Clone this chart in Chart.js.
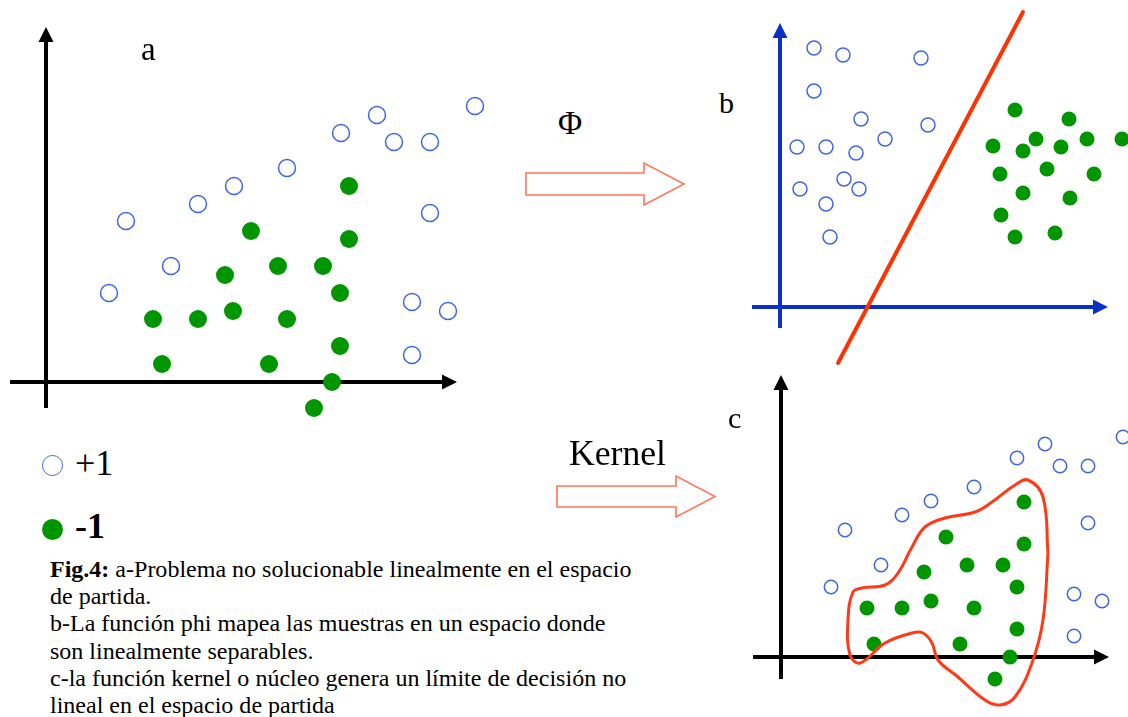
<!DOCTYPE html>
<html>
<head>
<meta charset="utf-8">
<script src="https://cdn.jsdelivr.net/npm/chart.js@4.4.1/dist/chart.umd.min.js"></script>
<style>
  html, body { margin: 0; padding: 0; background: #fff; }
  #stage { position: relative; width: 1128px; height: 717px; overflow: hidden;
           font-family: "Liberation Serif", "Times New Roman", serif; color: #000; }
  #stage canvas { position: absolute; }
  .t { position: absolute; white-space: nowrap; line-height: 1; }
  .mk { position: absolute; border-radius: 50%; box-sizing: border-box; }
  svg { position: absolute; left: 0; top: 0; }
</style>
</head>
<body>
<div id="stage">
  <svg width="1128" height="717" id="arrows"></svg>
  <canvas id="panelA" width="500" height="430" style="left:0;top:0"></canvas>
  <canvas id="panelB" width="388" height="370" style="left:740px;top:0"></canvas>
  <canvas id="panelC" width="388" height="347" style="left:740px;top:370px"></canvas>
</div>
<script>
// ---- a: original input space (x, y relative to the axes origin) ----
const plusA  = [[6.3,8.9],[8.0,16.1],[12.5,11.6],[15.2,17.8],[18.8,19.6],[24.1,21.4],[29.5,24.9],
                [33.1,26.7],[34.8,24.0],[38.4,24.0],[38.4,16.9],[42.9,27.6],[36.6,8.0],[40.2,7.1],[36.6,2.7]];
const minusA = [[30.3,19.6],[20.5,15.1],[30.3,14.3],[17.9,10.7],[23.2,11.6],[27.7,11.6],[29.4,8.9],
                [10.7,6.3],[15.2,6.3],[18.7,7.1],[24.1,6.3],[29.4,3.6],[11.6,1.8],[22.3,1.8],[28.6,0],[26.8,-2.6]];

// ---- b: feature space after phi ----
const plusB  = [[3.4,25.9],[6.3,25.2],[14.1,24.9],[3.4,21.6],[8.1,18.8],[14.8,18.2],[10.5,16.8],
                [1.7,16.0],[4.6,16.0],[7.6,15.4],[2.0,11.8],[6.4,12.8],[7.9,11.8],[4.6,10.3],[5.0,7.0]];
const minusB = [[23.5,19.7],[28.9,18.8],[25.6,16.8],[30.7,16.8],[34.2,16.8],[21.3,16.1],[24.3,15.6],
                [28.1,16.0],[26.7,13.8],[22.0,13.3],[31.4,13.3],[24.3,11.4],[29.0,10.9],[22.1,9.2],[23.5,7.0],[27.5,7.4]];
const separatorB = [[5.8,-5.6],[24.3,29.5]];

// ---- c: input space with kernel decision boundary ----
const plusC  = [[6.4,12.7],[5.0,7.0],[10.0,9.2],[12.1,14.2],[15.0,15.6],[19.3,17.0],[23.6,19.9],
                [26.4,21.3],[27.9,19.1],[30.7,19.1],[30.7,13.4],[29.3,6.3],[32.1,5.6],[29.3,2.1],[34.2,22.0]];
const minusC = [[24.3,15.5],[24.3,11.3],[16.5,12.0],[18.6,9.2],[22.2,9.2],[14.3,8.5],[23.6,7.0],
                [8.6,4.9],[12.1,4.9],[15.0,5.6],[19.3,4.9],[23.6,2.8],[9.3,1.3],[17.9,1.3],[22.9,0],[21.4,-2.2]];
const boundaryC = [[26.7,10.4],[26.2,3.7],[25.1,-0.6],[23.4,-4.0],[21.9,-4.8],[20.4,-4.3],[17.7,-2.0],
                   [15.7,-0.3],[15.1,1.4],[14.2,2.4],[13.1,2.4],[10.4,1.4],[7.9,-0.6],[6.9,0.2],[6.7,3.7],
                   [7.2,6.5],[8.1,6.9],[10.4,7.2],[11.7,8.4],[13.1,11.0],[14.4,13.0],[16.4,13.9],[19.4,14.5],
                   [21.1,15.5],[23.4,17.2],[24.7,17.7],[26.2,16.0],[26.7,10.4]];

// axis extents [from, to] for each panel
const axesA = { x: [-3.6, 41.1], y: [-2.6, 35.5] };
const axesB = { x: [-2.8, 32.8], y: [-2.1, 28.4] };
const axesC = { x: [-2.8, 32.8], y: [-2.2, 28.2] };

// legend and caption
const legendLabels = ['+1', '-1'];
const captionHead = 'Fig.4:';
const captionLines = [
  ' a-Problema no solucionable linealmente en el espacio',
  'de partida.',
  'b-La función phi mapea las muestras en un espacio donde',
  'son linealmente separables.',
  'c-la función kernel o núcleo genera un límite de decisión no',
  'lineal en el espacio de partida'
];

const BLUE_OPEN = '#3f66e0';
const GREEN = '#009600';
const toXY = arr => arr.map(([x, y]) => ({ x, y }));

// Draws both axes through the origin, each ending in a solid arrowhead.
const axisArrows = {
  id: 'axisArrows',
  beforeDatasetsDraw(chart, args, o) {
    const { ctx, scales: { x, y } } = chart;
    const x0 = x.getPixelForValue(0), y0 = y.getPixelForValue(0);
    const xs = x.getPixelForValue(o.x[0]), xe = x.getPixelForValue(o.x[1]);
    const ys = y.getPixelForValue(o.y[0]), ye = y.getPixelForValue(o.y[1]);
    const L = o.head, W = o.half;
    ctx.save();
    ctx.strokeStyle = o.color; ctx.fillStyle = o.color; ctx.lineWidth = o.width;
    ctx.beginPath();
    ctx.moveTo(xs, y0); ctx.lineTo(xe - L * 0.7, y0);
    ctx.moveTo(x0, ys); ctx.lineTo(x0, ye + L * 0.7);
    ctx.stroke();
    ctx.beginPath();
    ctx.moveTo(xe, y0); ctx.lineTo(xe - L, y0 - W); ctx.lineTo(xe - L, y0 + W); ctx.closePath();
    ctx.moveTo(x0, ye); ctx.lineTo(x0 - W, ye + L); ctx.lineTo(x0 + W, ye + L); ctx.closePath();
    ctx.fill();
    ctx.restore();
  }
};

function panel(id, p) {
  const canvas = document.getElementById(id);
  const ox = p.origin[0], oy = p.origin[1], u = p.unit;
  const datasets = [
    { label: '+1', data: toXY(p.plus), pointRadius: p.rPlus, pointBorderWidth: 1.5,
      pointBorderColor: BLUE_OPEN, pointBackgroundColor: 'rgba(255,255,255,0)', order: 2 },
    { label: '-1', data: toXY(p.minus), pointRadius: p.rMinus, pointBorderWidth: 0,
      pointBackgroundColor: GREEN, pointBorderColor: GREEN, order: 1 }
  ];
  if (p.boundary) {
    datasets.push({ label: 'frontera', data: toXY(p.boundary), showLine: true, pointRadius: 0,
      borderColor: p.boundaryColor, borderWidth: p.boundaryWidth, tension: p.tension || 0,
      borderCapStyle: 'round', borderJoinStyle: 'round', fill: false, order: 0 });
  }
  return new Chart(canvas, {
    type: 'scatter',
    data: { datasets },
    options: {
      responsive: false, animation: false, devicePixelRatio: 1, events: [],
      layout: { padding: 0, autoPadding: false },
      scales: {
        x: { type: 'linear', display: false, min: -ox / u, max: (canvas.width - ox) / u },
        y: { type: 'linear', display: false, min: (oy - canvas.height) / u, max: oy / u }
      },
      plugins: { legend: { display: false }, tooltip: { enabled: false },
                 axisArrows: Object.assign({ head: 15, half: 7.5, width: 4 }, p.axes) }
    },
    plugins: [axisArrows]
  });
}

panel('panelA', { origin: [46, 382], unit: 10, plus: plusA, minus: minusA, rPlus: 8.5, rMinus: 9,
  axes: Object.assign({ color: '#000' }, axesA) });
panel('panelB', { origin: [40, 307], unit: 10, plus: plusB, minus: minusB, rPlus: 7, rMinus: 7.5,
  boundary: separatorB, boundaryColor: '#ff3300', boundaryWidth: 4,
  axes: Object.assign({ color: '#0a30c8' }, axesB) });
panel('panelC', { origin: [41, 287], unit: 10, plus: plusC, minus: minusC, rPlus: 6.7, rMinus: 7.5,
  boundary: boundaryC, boundaryColor: '#ff3a18', boundaryWidth: 3, tension: 0.4,
  axes: Object.assign({ color: '#000' }, axesC) });

// ---- hollow block arrows between the panels ----
const svg = document.getElementById('arrows');
function blockArrow(x0, x1, xh, yc, shaftHalf, headHalf) {
  const pts = [[x0, yc - shaftHalf], [xh, yc - shaftHalf], [xh, yc - headHalf], [x1, yc],
               [xh, yc + headHalf], [xh, yc + shaftHalf], [x0, yc + shaftHalf]];
  const poly = document.createElementNS('http://www.w3.org/2000/svg', 'polygon');
  poly.setAttribute('points', pts.map(p => p.join(',')).join(' '));
  poly.setAttribute('fill', '#fff');
  poly.setAttribute('stroke', '#ff7658');
  poly.setAttribute('stroke-width', '1.6');
  svg.appendChild(poly);
}
blockArrow(526, 684, 644, 184, 11, 21);
blockArrow(557, 715, 676, 496.5, 10.5, 20.5);

// ---- text ----
const stage = document.getElementById('stage');
// places text by its baseline; with opt.width the font size is tuned to that width
function text(str, left, baseline, size, opt = {}) {
  const d = document.createElement('div');
  d.className = 't';
  if (str) d.textContent = str;
  if (opt.bold) d.style.fontWeight = 'bold';
  d.style.left = left + 'px';
  stage.appendChild(d);
  const setSize = s => { d.style.fontSize = s + 'px'; d.style.top = (baseline - 0.8375 * s) + 'px'; };
  setSize(size);
  if (opt.width) setSize(size * opt.width / d.getBoundingClientRect().width);
  return d;
}
text('a', 141, 61, 33);
text('b', 719, 113, 30);
text('c', 728, 428, 30);
text('Φ', 558, 135, 33);
text('Kernel', 569, 466, 32, { width: 97 });
text(legendLabels[0], 75, 475, 36);
text(legendLabels[1], 75, 538, 36, { bold: true });

// legend markers
function marker(cx, cy, r, filled) {
  const m = document.createElement('div');
  m.className = 'mk';
  m.style.left = (cx - r) + 'px'; m.style.top = (cy - r) + 'px';
  m.style.width = m.style.height = (2 * r) + 'px';
  if (filled) m.style.background = GREEN; else m.style.border = '1.6px solid ' + BLUE_OPEN;
  stage.appendChild(m);
}
marker(52.5, 465.5, 10.3, false);
marker(52.5, 529, 10.5, true);

// caption: first line sets the font size from the column width
const capBase = 577, capLead = 27.3;
let capSize = 24;
const rows = captionLines.map((s, i) => {
  const d = text('', 50, capBase + i * capLead, capSize);
  if (i === 0) {
    const b = document.createElement('b'); b.textContent = captionHead; d.appendChild(b);
  }
  d.appendChild(document.createTextNode(s));
  return d;
});
capSize = capSize * 582 / rows[0].getBoundingClientRect().width;
rows.forEach((d, i) => {
  d.style.fontSize = capSize + 'px';
  d.style.top = (capBase + i * capLead - 0.8375 * capSize) + 'px';
});
</script>
</body>
</html>
